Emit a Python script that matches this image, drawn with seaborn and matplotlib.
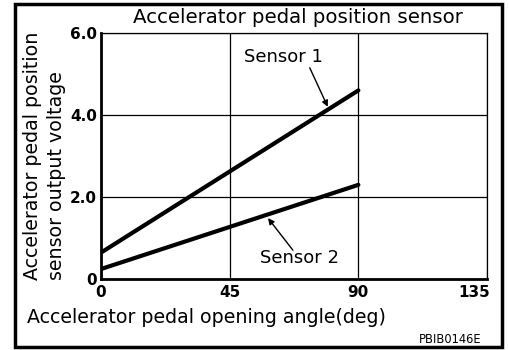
import matplotlib
matplotlib.use("Agg")
import matplotlib.pyplot as plt
import matplotlib.transforms as mtransforms
import seaborn as sns
import pandas as pd
from matplotlib.patches import Rectangle

# Pedal angle (deg) and sensor output voltage (V)
angle = [0, 90]
sensor1 = [0.65, 4.6]
sensor2 = [0.25, 2.3]
x_ticks = [0, 45, 90, 135]
y_ticks = [0, 2, 4, 6]
y_tick_labels = ["0", "2.0", "4.0", "6.0"]

df = pd.DataFrame({
    "angle": angle * 2,
    "voltage": sensor1 + sensor2,
    "sensor": ["Sensor 1"] * 2 + ["Sensor 2"] * 2,
})

sns.set_theme(style="white")
plt.rcParams["font.family"] = ["DejaVu Sans"]
plt.rcParams["text.color"] = "black"
plt.rcParams["xtick.color"] = "black"
plt.rcParams["ytick.color"] = "black"
plt.rcParams["axes.labelcolor"] = "black"

fig = plt.figure(figsize=(5.1, 3.5), dpi=100)
ax = fig.add_axes([0.198, 0.202, 0.757, 0.704])

sns.lineplot(data=df, x="angle", y="voltage", units="sensor", estimator=None,
             color="black", linewidth=3.0, legend=False, ax=ax)

ax.set_xlim(0, 135)
ax.set_ylim(0, 6)
ax.set_xticks(x_ticks)
ax.set_yticks(y_ticks)
ax.set_yticklabels(y_tick_labels)
ax.tick_params(axis="both", length=0, labelsize=11, labelcolor="black")
ax.tick_params(axis="x", pad=4)
ax.tick_params(axis="y", pad=3)
for lbl in ax.get_xticklabels() + ax.get_yticklabels():
    lbl.set_fontweight("bold")
# keep the last x label inside the frame
last = ax.get_xticklabels()[-1]
last.set_horizontalalignment("right")
last.set_transform(last.get_transform() +
                   mtransforms.ScaledTranslation(3 / 100, 0, fig.dpi_scale_trans))

ax.grid(True, color="black", linewidth=0.9)
for side in ["top", "right"]:
    ax.spines[side].set_linewidth(0.9)
for side in ["left", "bottom"]:
    ax.spines[side].set_linewidth(2.0)
for sp in ax.spines.values():
    sp.set_color("black")
    sp.set_zorder(3)

ax.set_xlabel("")
ax.set_ylabel("")
fig.text(0.053, 0.077, "Accelerator pedal opening angle(deg)", fontsize=13.7,
         ha="left", va="baseline", color="black")
fig.text(0.087, 0.2, "Accelerator pedal position\nsensor output voltage",
         fontsize=13.7, rotation=90, ha="center", va="bottom",
         multialignment="left", linespacing=1.33, color="black")
fig.text(0.584, 0.951, "Accelerator pedal position sensor", fontsize=14.2,
         ha="center", va="center", color="black")

ax.text(63.9, 5.42, "Sensor 1", fontsize=13, ha="center", va="center", color="black")
ax.annotate("", xy=(79.3, 4.2), xytext=(73.0, 5.15),
            arrowprops=dict(arrowstyle="-|>", color="black", lw=1.0,
                            mutation_scale=9, shrinkA=0, shrinkB=0))
ax.text(69.5, 0.52, "Sensor 2", fontsize=13, ha="center", va="center", color="black")
ax.annotate("", xy=(58.4, 1.49), xytext=(67.1, 0.71),
            arrowprops=dict(arrowstyle="-|>", color="black", lw=1.0,
                            mutation_scale=9, shrinkA=0, shrinkB=0))

fig.text(0.945, 0.029, "PBIB0146E", fontsize=8.3, ha="right", va="center",
         color="black")
fig.patches.append(Rectangle((0.03, 0.008), 0.955, 0.982, transform=fig.transFigure,
                             fill=False, edgecolor="black", linewidth=2.5))

fig.savefig("out.png", dpi=100)
